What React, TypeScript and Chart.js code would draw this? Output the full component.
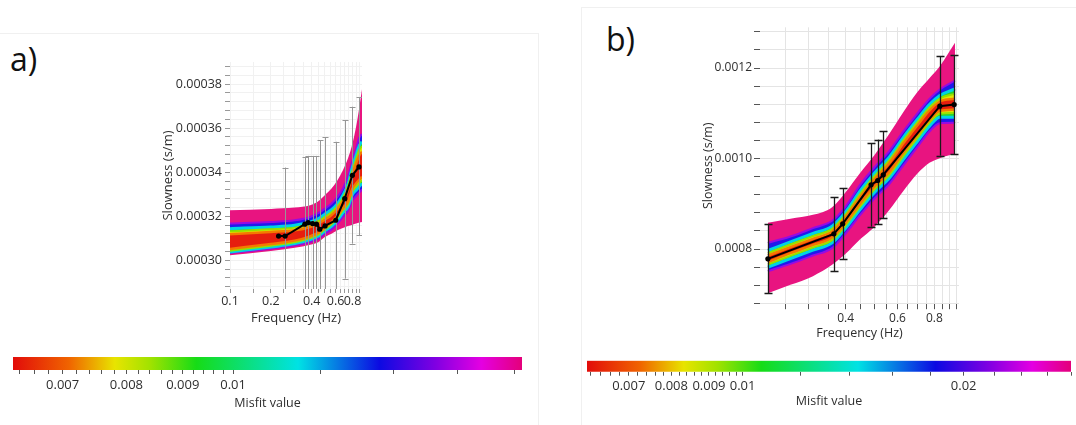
import React, { useEffect, useRef } from 'react';
import { Chart, registerables } from 'chart.js';

Chart.register(...registerables);

const FONT = '"Open Sans", "Noto Sans", "DejaVu Sans", sans-serif';
const INK = '#2e2e2e';
Chart.defaults.font.family = FONT;

/* ---------------- panel a: observed dispersion curve ---------------- */
const obsFreqA = [0.228, 0.255, 0.356, 0.377, 0.406, 0.434, 0.459, 0.502, 0.602, 0.701, 0.798, 0.893];
const obsSlowA = [3.11e-4, 3.11e-4, 3.164e-4, 3.171e-4, 3.167e-4, 3.164e-4, 3.141e-4, 3.156e-4, 3.182e-4, 3.28e-4, 3.386e-4, 3.424e-4];
const errHighA = [null, 3.421e-4, 3.47e-4, 3.474e-4, 3.474e-4, 3.474e-4, 3.545e-4, 3.558e-4, 3.538e-4, 3.636e-4, 3.697e-4, 3.74e-4];
const errLowA = [null, 2.8e-4, 2.858e-4, 2.868e-4, 2.86e-4, 2.854e-4, 2.737e-4, 2.754e-4, 2.826e-4, 2.917e-4, 3.076e-4, 3.114e-4];

/* panel a: envelopes of the inverted model curves, grouped by misfit level */
const bandFreqA = [0.1, 0.2, 0.3, 0.39, 0.45, 0.5, 0.56, 0.62, 0.68, 0.74, 0.8, 0.85, 0.9, 0.94];
const outerUpA = [3.2273e-4, 3.2333e-4, 3.2394e-4, 3.25e-4, 3.2697e-4, 3.2954e-4, 3.3257e-4, 3.3636e-4, 3.409e-4, 3.462e-4, 3.53e-4, 3.606e-4, 3.697e-4, 3.776e-4];
const outerLoA = [3.0227e-4, 3.0424e-4, 3.0576e-4, 3.0712e-4, 3.0833e-4, 3.106e-4, 3.1212e-4, 3.1364e-4, 3.147e-4, 3.156e-4, 3.162e-4, 3.1667e-4, 3.1712e-4, 3.1742e-4];
const blueUpA = [3.1667e-4, 3.1742e-4, 3.1818e-4, 3.197e-4, 3.2152e-4, 3.2348e-4, 3.2576e-4, 3.2879e-4, 3.3257e-4, 3.3788e-4, 3.4545e-4, 3.5076e-4, 3.5576e-4, 3.5727e-4];
const blueLoA = [3.0333e-4, 3.053e-4, 3.0682e-4, 3.0833e-4, 3.0985e-4, 3.1212e-4, 3.1394e-4, 3.1667e-4, 3.197e-4, 3.2242e-4, 3.2727e-4, 3.2909e-4, 3.3091e-4, 3.3212e-4];
const greenUpA = [3.1439e-4, 3.1515e-4, 3.1591e-4, 3.1742e-4, 3.1894e-4, 3.2091e-4, 3.2303e-4, 3.2576e-4, 3.2954e-4, 3.3455e-4, 3.4242e-4, 3.4773e-4, 3.5227e-4, 3.5379e-4];
const greenLoA = [3.0379e-4, 3.0606e-4, 3.0758e-4, 3.0939e-4, 3.1106e-4, 3.1333e-4, 3.1545e-4, 3.1818e-4, 3.2152e-4, 3.2424e-4, 3.3e-4, 3.3182e-4, 3.3364e-4, 3.3485e-4];
const yellowUpA = [3.1318e-4, 3.1409e-4, 3.1485e-4, 3.1636e-4, 3.1788e-4, 3.197e-4, 3.2182e-4, 3.2455e-4, 3.2833e-4, 3.3333e-4, 3.4091e-4, 3.4591e-4, 3.503e-4, 3.5182e-4];
const yellowLoA = [3.0439e-4, 3.0667e-4, 3.0818e-4, 3.1015e-4, 3.1182e-4, 3.1409e-4, 3.1636e-4, 3.1924e-4, 3.2273e-4, 3.2545e-4, 3.3136e-4, 3.3333e-4, 3.3515e-4, 3.3636e-4];
const redUpA = [3.1182e-4, 3.1288e-4, 3.1364e-4, 3.1515e-4, 3.1667e-4, 3.1848e-4, 3.2061e-4, 3.2333e-4, 3.2697e-4, 3.3182e-4, 3.3909e-4, 3.4394e-4, 3.4773e-4, 3.4924e-4];
const redLoA = [3.0515e-4, 3.0742e-4, 3.0894e-4, 3.1091e-4, 3.1258e-4, 3.1485e-4, 3.1727e-4, 3.203e-4, 3.2379e-4, 3.2652e-4, 3.3258e-4, 3.3485e-4, 3.3667e-4, 3.3788e-4];

/* panel a: axes */
const xTicksA = [0.1, 0.15, 0.2, 0.25, 0.3, 0.35, 0.4, 0.45, 0.5, 0.55, 0.6, 0.65, 0.7, 0.75, 0.8, 0.85, 0.9];
const xLabelValuesA = [0.1, 0.2, 0.4, 0.6, 0.8];
const xLabelTextA = ['0.1', '0.2', '0.4', '0.6', '0.8'];
const yLabelValuesA = [0.0003, 0.00032, 0.00034, 0.00036, 0.00038];
const yLabelTextA = ['0.00030', '0.00032', '0.00034', '0.00036', '0.00038'];

/* ---------------- panel b: observed dispersion curve ---------------- */
const obsFreqB = [0.218, 0.365, 0.391, 0.488, 0.514, 0.537, 0.835, 0.934];
const obsSlowB = [7.783e-4, 8.335e-4, 8.556e-4, 9.418e-4, 9.514e-4, 9.639e-4, 11.156e-4, 11.193e-4];
const errHighB = [8.542e-4, 9.146e-4, 9.352e-4, 10.346e-4, 10.42e-4, 10.597e-4, 12.261e-4, 12.291e-4];
const errLowB = [7.024e-4, 7.503e-4, 7.783e-4, 8.497e-4, 8.556e-4, 8.689e-4, 10.066e-4, 10.103e-4];

/* panel b: envelopes of the inverted model curves, grouped by misfit level */
const bandFreqB = [0.218, 0.26, 0.31, 0.36, 0.4, 0.45, 0.5, 0.56, 0.63, 0.7, 0.77, 0.835, 0.94];
const outerUpB = [8.578e-4, 8.667e-4, 8.755e-4, 8.925e-4, 9.256e-4, 9.698e-4, 10.066e-4, 10.523e-4, 11.039e-4, 11.466e-4, 11.775e-4, 12.04e-4, 12.556e-4];
const outerLoB = [7.024e-4, 7.208e-4, 7.4e-4, 7.65e-4, 7.893e-4, 8.225e-4, 8.483e-4, 8.844e-4, 9.293e-4, 9.661e-4, 9.904e-4, 10.007e-4, 10.103e-4];
const blueUpB = [8.136e-4, 8.276e-4, 8.46e-4, 8.623e-4, 8.939e-4, 9.433e-4, 9.801e-4, 10.147e-4, 10.611e-4, 10.994e-4, 11.319e-4, 11.525e-4, 11.724e-4];
const blueLoB = [7.51e-4, 7.672e-4, 7.856e-4, 8.019e-4, 8.343e-4, 8.763e-4, 9.109e-4, 9.418e-4, 9.86e-4, 10.25e-4, 10.597e-4, 10.781e-4, 10.788e-4];
const greenUpB = [7.967e-4, 8.158e-4, 8.343e-4, 8.505e-4, 8.821e-4, 9.3e-4, 9.669e-4, 10.015e-4, 10.479e-4, 10.862e-4, 11.193e-4, 11.392e-4, 11.54e-4];
const greenLoB = [7.599e-4, 7.79e-4, 7.974e-4, 8.136e-4, 8.46e-4, 8.888e-4, 9.241e-4, 9.551e-4, 9.993e-4, 10.376e-4, 10.715e-4, 10.913e-4, 10.913e-4];
const yellowUpB = [7.908e-4, 8.1e-4, 8.284e-4, 8.446e-4, 8.763e-4, 9.234e-4, 9.602e-4, 9.948e-4, 10.412e-4, 10.796e-4, 11.127e-4, 11.326e-4, 11.429e-4];
const yellowLoB = [7.658e-4, 7.849e-4, 8.033e-4, 8.195e-4, 8.519e-4, 8.954e-4, 9.308e-4, 9.617e-4, 10.066e-4, 10.449e-4, 10.788e-4, 10.987e-4, 11.009e-4];
const redUpB = [7.856e-4, 8.041e-4, 8.225e-4, 8.387e-4, 8.704e-4, 9.168e-4, 9.536e-4, 9.882e-4, 10.346e-4, 10.729e-4, 11.061e-4, 11.26e-4, 11.319e-4];
const redLoB = [7.709e-4, 7.908e-4, 8.092e-4, 8.254e-4, 8.578e-4, 9.02e-4, 9.374e-4, 9.683e-4, 10.14e-4, 10.523e-4, 10.854e-4, 11.053e-4, 11.083e-4];

/* panel b: axes */
const xTicksB = [0.25, 0.3, 0.35, 0.4, 0.45, 0.5, 0.55, 0.6, 0.65, 0.7, 0.75, 0.8, 0.85, 0.9, 0.95];
const xLabelValuesB = [0.4, 0.6, 0.8];
const xLabelTextB = ['0.4', '0.6', '0.8'];
const yLabelValuesB = [0.0008, 0.001, 0.0012];
const yLabelTextB = ['0.0008', '0.0010', '0.0012'];

/* ---------------- misfit colour scales ---------------- */
const misfitRangeA = [0.00631, 0.0183];
const misfitTicksA = [0.0064, 0.0066, 0.0068, 0.007, 0.0072, 0.0074, 0.0076, 0.0078, 0.008, 0.0082, 0.0084, 0.0086, 0.0088, 0.009, 0.0092, 0.0094, 0.0096, 0.0098, 0.01, 0.012, 0.014, 0.016, 0.018];
const misfitLabelValuesA = [0.007, 0.008, 0.009, 0.01];
const misfitLabelTextA = ['0.007', '0.008', '0.009', '0.01'];

const misfitRangeB = [0.00614, 0.028];
const misfitTicksB = [0.0062, 0.0064, 0.0066, 0.0068, 0.007, 0.0072, 0.0074, 0.0076, 0.0078, 0.008, 0.0082, 0.0084, 0.0086, 0.0088, 0.009, 0.0092, 0.0094, 0.0096, 0.0098, 0.01, 0.012, 0.014, 0.016, 0.018, 0.02, 0.022, 0.024, 0.026, 0.028];
const misfitLabelValuesB = [0.007, 0.008, 0.009, 0.01, 0.02];
const misfitLabelTextB = ['0.007', '0.008', '0.009', '0.01', '0.02'];

// rainbow palette shared by the colour bars
const MISFIT_STOPS: [number, string][] = [
  [0, 'rgb(226,12,10)'],
  [0.11, 'rgb(240,100,0)'],
  [0.2, 'rgb(232,228,0)'],
  [0.27, 'rgb(160,226,0)'],
  [0.36, 'rgb(22,220,22)'],
  [0.56, 'rgb(0,226,228)'],
  [0.72, 'rgb(12,10,226)'],
  [0.83, 'rgb(128,0,226)'],
  [0.92, 'rgb(228,0,226)'],
  [1, 'rgb(228,0,122)'],
];

// fill / edge colours of the nested misfit envelopes, worst to best
const LEVEL_STYLES = [
  { fill: 'rgb(232,20,128)', edge: 'rgb(232,20,128)', width: 0 },
  { fill: 'rgb(30,26,236)', edge: 'rgb(150,10,228)', width: 2 },
  { fill: 'rgb(38,214,42)', edge: 'rgb(0,212,226)', width: 3 },
  { fill: 'rgb(226,230,0)', edge: 'rgb(150,224,0)', width: 2 },
  { fill: 'rgb(230,30,14)', edge: 'rgb(244,122,0)', width: 2.5 },
];

const labelLookup = (values: number[], texts: string[]) => (v: any) => {
  const n = Number(v);
  const i = values.findIndex((t) => Math.abs(t - n) <= Math.abs(t) * 1e-6);
  return i >= 0 ? texts[i] : '';
};

const stepTicks = (from: number, to: number, step: number, unit: number) => {
  const out: { value: number }[] = [];
  for (let k = from; k <= to + 1e-9; k += step) out.push({ value: Math.round(k * 1000) / 1000 * unit });
  return out;
};

// draws the vertical uncertainty bars attached to a dataset
const errorBarPlugin = {
  id: 'errorBars',
  beforeDatasetDraw(chart: any, args: any) {
    const ds: any = chart.data.datasets[args.index];
    const eb = ds && ds.errorBars;
    if (!eb) return;
    const { ctx, chartArea: a, scales } = chart;
    const xs = scales.x;
    const ys = scales.y;
    ctx.save();
    ctx.beginPath();
    ctx.rect(a.left, a.top, a.right - a.left, a.bottom - a.top);
    ctx.clip();
    ctx.strokeStyle = eb.color;
    ctx.lineWidth = eb.width;
    ctx.beginPath();
    ds.data.forEach((pt: any, i: number) => {
      const lo = eb.low[i];
      const hi = eb.high[i];
      if (lo == null || hi == null) return;
      const px = Math.round(xs.getPixelForValue(pt.x)) + 0.5;
      const y1 = ys.getPixelForValue(lo);
      const y2 = ys.getPixelForValue(hi);
      ctx.moveTo(px, y1);
      ctx.lineTo(px, y2);
      ctx.moveTo(px - eb.cap, Math.round(y1) + 0.5);
      ctx.lineTo(px + eb.cap, Math.round(y1) + 0.5);
      ctx.moveTo(px - eb.cap, Math.round(y2) + 0.5);
      ctx.lineTo(px + eb.cap, Math.round(y2) + 0.5);
    });
    ctx.stroke();
    ctx.restore();
  },
};

function bandDatasets(freq: number[], levels: number[][][]) {
  const out: any[] = [];
  levels.forEach(([upper, lower], k) => {
    const st = LEVEL_STYLES[k];
    const base = out.length;
    const common = {
      type: 'line',
      pointRadius: 0,
      borderColor: st.edge,
      borderWidth: st.width,
      cubicInterpolationMode: 'monotone',
    };
    out.push({ ...common, data: freq.map((x, i) => ({ x, y: upper[i] })), backgroundColor: st.fill, fill: base + 1, order: 100 - 2 * k });
    out.push({ ...common, data: freq.map((x, i) => ({ x, y: lower[i] })), fill: false, order: 99 - 2 * k });
  });
  return out;
}

function dispersionConfig(p: any) {
  const datasets = bandDatasets(p.bandFreq, p.levels);
  datasets.push({
    type: 'line',
    data: p.obsFreq.map((x: number, i: number) => ({ x, y: p.obsSlow[i] })),
    borderColor: '#000',
    borderWidth: 2,
    pointRadius: 2.6,
    pointBackgroundColor: '#000',
    pointBorderWidth: 0,
    fill: false,
    order: 0,
    errorBars: { low: p.errLow, high: p.errHigh, color: p.errColor, width: p.errWidth, cap: p.errCap },
  });
  return {
    type: 'line',
    data: { datasets },
    plugins: [errorBarPlugin],
    options: {
      responsive: false,
      animation: false,
      events: [],
      layout: { padding: p.padding },
      plugins: { legend: { display: false }, tooltip: { enabled: false } },
      scales: {
        x: {
          type: 'logarithmic',
          min: p.xMin,
          max: p.xMax,
          border: { display: false },
          grid: { color: p.gridColor, tickColor: p.tickColor, tickLength: p.xTickLength },
          ticks: {
            autoSkip: false, maxRotation: 0, minRotation: 0, padding: p.xTickPadding,
            color: INK, font: { size: p.tickFont },
            callback: labelLookup(p.xLabelValues, p.xLabelText),
          },
          afterBuildTicks: (s: any) => { s.ticks = p.xTicks.map((v: number) => ({ value: v })); },
          afterFit: (s: any) => { s.height = p.xAxisHeight; },
          title: { display: true, text: 'Frequency (Hz)', color: INK, font: { size: p.titleFont }, padding: { top: 0, bottom: p.xTitlePad } },
        },
        y: {
          type: 'linear',
          min: p.yMin,
          max: p.yMax,
          border: { display: false },
          grid: { color: p.gridColor, tickColor: p.tickColor, tickLength: p.yTickLength },
          ticks: {
            autoSkip: false, padding: p.yTickPadding, color: INK, font: { size: p.tickFont },
            callback: labelLookup(p.yLabelValues, p.yLabelText),
          },
          afterBuildTicks: (s: any) => { s.ticks = p.yTicks; },
          afterFit: (s: any) => { s.width = p.yAxisWidth; },
          title: { display: true, text: 'Slowness (s/m)', color: INK, font: { size: p.titleFont }, padding: { top: p.yTitlePad, bottom: 0 } },
        },
      },
    },
  };
}

function colorbarConfig(p: any) {
  return {
    type: 'bar',
    data: {
      labels: [''],
      datasets: [{
        data: [[p.range[0], p.range[1]]],
        backgroundColor: (c: any) => {
          const area = c.chart.chartArea;
          if (!area) return MISFIT_STOPS[0][1];
          const g = c.chart.ctx.createLinearGradient(area.left, 0, area.right, 0);
          MISFIT_STOPS.forEach(([t, col]) => g.addColorStop(t, col));
          return g;
        },
        borderWidth: 0,
        borderSkipped: false,
        barPercentage: 1,
        categoryPercentage: 1,
      }],
    },
    options: {
      indexAxis: 'y',
      responsive: false,
      animation: false,
      events: [],
      layout: { padding: p.padding },
      plugins: { legend: { display: false }, tooltip: { enabled: false } },
      scales: {
        y: { display: false },
        x: {
          type: 'logarithmic',
          position: 'bottom',
          min: p.range[0],
          max: p.range[1],
          border: { display: false },
          grid: { drawOnChartArea: false, tickLength: 4, tickColor: '#555' },
          ticks: {
            autoSkip: false, maxRotation: 0, minRotation: 0, padding: 3, color: INK, font: { size: 13 },
            callback: labelLookup(p.labelValues, p.labelText),
          },
          afterBuildTicks: (s: any) => { s.ticks = p.ticks.map((v: number) => ({ value: v })); },
          afterFit: (s: any) => { s.height = p.axisHeight; },
          title: { display: true, text: 'Misfit value', color: INK, font: { size: 12.5 }, padding: { top: 0, bottom: 0.5 } },
        },
      },
    },
  };
}

function ChartCanvas({ left, top, width, height, config }: any) {
  const ref = useRef<HTMLCanvasElement>(null);
  useEffect(() => {
    const chart = new Chart(ref.current as HTMLCanvasElement, config());
    return () => chart.destroy();
  }, []);
  return (
    <canvas
      ref={ref}
      width={width}
      height={height}
      style={{ position: 'absolute', left, top, width, height }}
    />
  );
}

const panelA = () => dispersionConfig({
  bandFreq: bandFreqA,
  levels: [[outerUpA, outerLoA], [blueUpA, blueLoA], [greenUpA, greenLoA], [yellowUpA, yellowLoA], [redUpA, redLoA]],
  obsFreq: obsFreqA, obsSlow: obsSlowA, errLow: errLowA, errHigh: errHighA,
  errColor: 'rgb(150,150,150)', errWidth: 1, errCap: 3,
  xMin: 0.1, xMax: 0.94, yMin: 0.000287, yMax: 0.00039,
  xTicks: xTicksA, xLabelValues: xLabelValuesA, xLabelText: xLabelTextA,
  yTicks: stepTicks(288, 388, 4, 1e-6), yLabelValues: yLabelValuesA, yLabelText: yLabelTextA,
  padding: { top: 22, left: 0, right: 10, bottom: 0 },
  yAxisWidth: 90, xAxisHeight: 46, xTickLength: 4, yTickLength: 5, xTickPadding: 1, yTickPadding: 3,
  yTitlePad: 20, xTitlePad: 9, tickFont: 12.5, titleFont: 13,
  gridColor: '#f1f1f1', tickColor: '#999',
});

const panelB = () => dispersionConfig({
  bandFreq: bandFreqB,
  levels: [[outerUpB, outerLoB], [blueUpB, blueLoB], [greenUpB, greenLoB], [yellowUpB, yellowLoB], [redUpB, redLoB]],
  obsFreq: obsFreqB, obsSlow: obsSlowB, errLow: errLowB, errHigh: errHighB,
  errColor: '#1a1a1a', errWidth: 1.3, errCap: 4,
  xMin: 0.205, xMax: 0.97, yMin: 0.000678, yMax: 0.00129,
  xTicks: xTicksB, xLabelValues: xLabelValuesB, xLabelText: xLabelTextB,
  yTicks: stepTicks(68, 128, 4, 1e-5), yLabelValues: yLabelValuesB, yLabelText: yLabelTextB,
  padding: { top: 17.3, left: 0, right: 11, bottom: 0 },
  yAxisWidth: 80, xAxisHeight: 40.8, xTickLength: 5, yTickLength: 6, xTickPadding: 2, yTickPadding: 2,
  yTitlePad: 20.5, xTitlePad: 4.2, tickFont: 12, titleFont: 12.5,
  gridColor: '#e4e4e4', tickColor: '#555',
});

const barA = () => colorbarConfig({
  range: misfitRangeA, ticks: misfitTicksA, labelValues: misfitLabelValuesA, labelText: misfitLabelTextA,
  padding: { top: 7, left: 13, right: 18, bottom: 0 }, axisHeight: 41,
});

const barB = () => colorbarConfig({
  range: misfitRangeB, ticks: misfitTicksB, labelValues: misfitLabelValuesB, labelText: misfitLabelTextB,
  padding: { top: 10.7, left: 27, right: 5, bottom: 0 }, axisHeight: 37.3,
});

const panelLabel = (text: string, left: number, top: number) => (
  <div style={{ position: 'absolute', left, top, fontFamily: FONT, fontSize: 32, lineHeight: '32px', color: '#111' }}>{text}</div>
);

export default function App() {
  return (
    <div style={{ position: 'absolute', left: 0, top: 0, width: 1076, height: 425, background: '#fff', overflow: 'hidden' }}>
      <div style={{ position: 'absolute', left: -1, top: 33, width: 538, height: 400, border: '1px solid #f0f0f0' }} />
      <div style={{ position: 'absolute', left: 581, top: 7, width: 500, height: 430, border: '1px solid #f0f0f0' }} />
      {panelLabel('a)', 10, 43)}
      {panelLabel('b)', 606, 23)}
      <ChartCanvas left={140} top={40} width={232} height={295} config={panelA} />
      <ChartCanvas left={680} top={10} width={290} height={335} config={panelB} />
      <ChartCanvas left={0} top={350} width={540} height={61} config={barA} />
      <ChartCanvas left={560} top={350} width={516} height={59} config={barB} />
    </div>
  );
}
